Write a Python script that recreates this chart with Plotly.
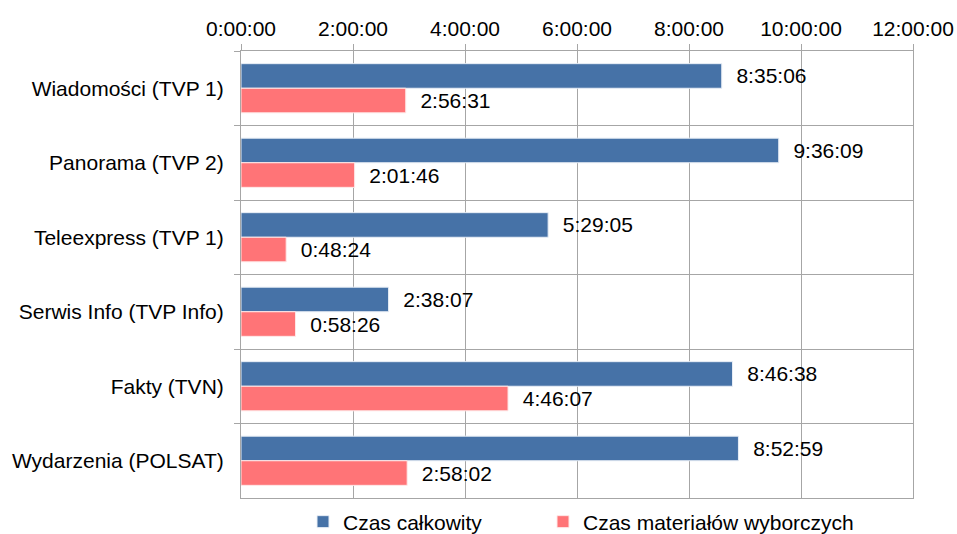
import plotly.graph_objects as go

categories = ["Wiadomości (TVP 1)", "Panorama (TVP 2)", "Teleexpress (TVP 1)",
              "Serwis Info (TVP Info)", "Fakty (TVN)", "Wydarzenia (POLSAT)"]
czas_calkowity = ["8:35:06", "9:36:09", "5:29:05", "2:38:07", "8:46:38", "8:52:59"]
czas_wyborczy = ["2:56:31", "2:01:46", "0:48:24", "0:58:26", "4:46:07", "2:58:02"]
tick_labels = ["0:00:00", "2:00:00", "4:00:00", "6:00:00", "8:00:00", "10:00:00", "12:00:00"]


def to_sec(s):
    h, m, sec = (int(p) for p in s.split(":"))
    return h * 3600 + m * 60 + sec


tick_vals = [to_sec(t) for t in tick_labels]
FONT = "Liberation Sans, Arial, sans-serif"
FS = 21
pad = "\u00a0\u00a0"

fig = go.Figure()
fig.add_trace(go.Bar(
    y=categories, x=[to_sec(v) for v in czas_calkowity], orientation="h",
    name="Czas całkowity", text=czas_calkowity, texttemplate=pad + "%{text}",
    textposition="outside", cliponaxis=False, legend="legend",
    marker=dict(color="#4672A7", line=dict(color="#E8EEF6", width=1)),
    textfont=dict(family=FONT, size=FS, color="#000000"),
))
fig.add_trace(go.Bar(
    y=categories, x=[to_sec(v) for v in czas_wyborczy], orientation="h",
    name="Czas materiałów wyborczych", text=czas_wyborczy, texttemplate=pad + "%{text}",
    textposition="outside", cliponaxis=False, legend="legend2",
    marker=dict(color="#FF7477", line=dict(color="#FFE8E8", width=1)),
    textfont=dict(family=FONT, size=FS, color="#000000"),
))

legend_common = dict(
    orientation="h", xref="container", yref="container",
    y=12 / 534, xanchor="left", yanchor="middle",
    font=dict(family=FONT, size=FS), bgcolor="rgba(0,0,0,0)",
)

fig.update_layout(
    width=957, height=534,
    margin=dict(l=241, r=44, t=51, b=36, autoexpand=False),
    paper_bgcolor="white", plot_bgcolor="white",
    barmode="group", bargap=0.34, bargroupgap=0.0,
    font=dict(family=FONT, size=FS, color="#000000"),
    xaxis=dict(
        side="top", range=[0, 43200], tickvals=tick_vals, ticktext=tick_labels,
        showgrid=True, gridcolor="#A6A6A6", gridwidth=1,
        ticks="outside", ticklen=6, tickcolor="#A6A6A6",
        showline=True, linecolor="#A6A6A6", mirror=True, zeroline=False,
        tickfont=dict(family=FONT, size=FS),
    ),
    yaxis=dict(
        autorange="reversed", tickson="boundaries",
        showgrid=True, gridcolor="#A6A6A6", gridwidth=1,
        ticks="outside", ticklen=6, tickcolor="#A6A6A6",
        showline=True, linecolor="#A6A6A6", mirror=True,
        tickfont=dict(family=FONT, size=FS), ticklabelstandoff=12,
    ),
    legend=dict(x=303 / 957, **legend_common),
    legend2=dict(x=543 / 957, **legend_common),
    showlegend=True,
)

fig.write_html("out.html")
